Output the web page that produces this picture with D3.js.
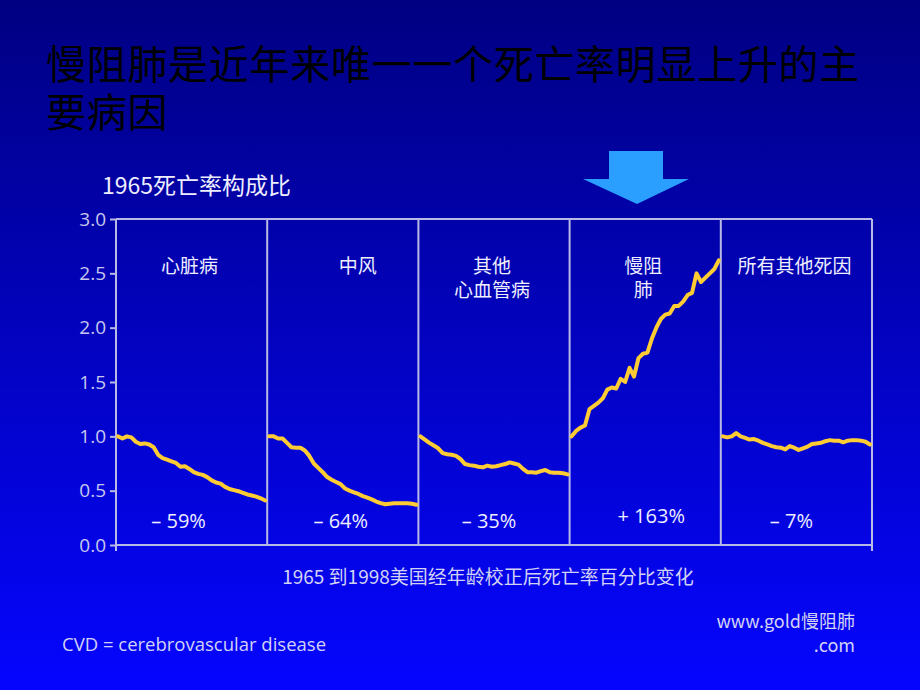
<!DOCTYPE html>
<html>
<head>
<meta charset="utf-8">
<script src="https://cdn.jsdelivr.net/npm/d3@7"></script>
<style>
  body { margin: 0; padding: 0; }
  svg { display: block; }
</style>
</head>
<body>
<script>
// ---- data ----
var years = d3.range(1965, 1999);

var causes = ["心脏病", "中风", "其他\n心血管病", "慢阻\n肺", "所有其他死因"];

var changes = ["– 59%", "– 64%", "– 35%", "+ 163%", "– 7%"];

var heart = [1.00, 0.98, 1.00, 0.99, 0.95, 0.93, 0.935, 0.925, 0.90, 0.83, 0.80, 0.785, 0.77, 0.755, 0.72, 0.725, 0.70,
             0.67, 0.655, 0.645, 0.625, 0.595, 0.575, 0.565, 0.535, 0.515, 0.505, 0.495, 0.48, 0.465, 0.455, 0.445, 0.43, 0.41];
var stroke = [1.00, 1.00, 0.98, 0.98, 0.94, 0.90, 0.895, 0.895, 0.87, 0.82, 0.75, 0.71, 0.67, 0.625, 0.60, 0.58, 0.56,
              0.52, 0.50, 0.485, 0.47, 0.45, 0.435, 0.42, 0.40, 0.385, 0.375, 0.38, 0.385, 0.385, 0.385, 0.385, 0.38, 0.37];
var otherCvd = [1.00, 0.97, 0.94, 0.915, 0.89, 0.845, 0.835, 0.83, 0.82, 0.79, 0.745, 0.735, 0.73, 0.72, 0.715, 0.73, 0.72,
                0.725, 0.735, 0.745, 0.76, 0.75, 0.74, 0.70, 0.67, 0.67, 0.665, 0.68, 0.69, 0.67, 0.665, 0.665, 0.66, 0.65];
var copd = [1.00, 1.05, 1.08, 1.10, 1.25, 1.28, 1.31, 1.35, 1.43, 1.45, 1.44, 1.53, 1.50, 1.63, 1.55, 1.72, 1.76,
            1.77, 1.90, 2.00, 2.08, 2.12, 2.13, 2.20, 2.20, 2.24, 2.30, 2.32, 2.50, 2.42, 2.46, 2.50, 2.54, 2.62];
var allOther = [1.00, 0.99, 1.00, 1.03, 1.00, 0.985, 0.97, 0.975, 0.96, 0.94, 0.925, 0.91, 0.90, 0.895, 0.88, 0.91, 0.895,
                0.875, 0.89, 0.905, 0.93, 0.935, 0.94, 0.955, 0.965, 0.96, 0.96, 0.945, 0.96, 0.965, 0.965, 0.96, 0.95, 0.925];

var series = [heart, stroke, otherCvd, copd, allOther];

var yTicks = [0.0, 0.5, 1.0, 1.5, 2.0, 2.5, 3.0];

// ---- canvas ----
var width = 920, height = 690;

var svg = d3.select("body")
    .append("svg")
    .attr("width", width)
    .attr("height", height);

var defs = svg.append("defs");
var grad = defs.append("linearGradient")
    .attr("id", "bg")
    .attr("x1", 0).attr("y1", 0)
    .attr("x2", 0).attr("y2", 1);
grad.append("stop").attr("offset", "0%").attr("stop-color", "#000082");
grad.append("stop").attr("offset", "100%").attr("stop-color", "#0505ff");

svg.append("rect")
    .attr("width", width)
    .attr("height", height)
    .attr("fill", "url(#bg)");

var cjk = "'Noto Sans CJK SC', 'Noto Sans', sans-serif";
var latin = "'Open Sans', 'Noto Sans', sans-serif";
var axisColor = "#b9b9e6";
var textColor = "#eeeeff";
var noteColor = "#d2d2f4";

// title (two lines, as in the slide)
svg.append("text")
    .attr("x", 46)
    .attr("y", 79)
    .attr("fill", "#000000")
    .style("font-family", cjk)
    .style("font-size", "40px")
    .style("letter-spacing", "0.7px")
    .text("慢阻肺是近年来唯一一个死亡率明显上升的主");
svg.append("text")
    .attr("x", 46)
    .attr("y", 127)
    .attr("fill", "#000000")
    .style("font-family", cjk)
    .style("font-size", "40px")
    .style("letter-spacing", "0.7px")
    .text("要病因");

// arrow
var arrowPath = d3.path();
arrowPath.moveTo(609, 151);
arrowPath.lineTo(663, 151);
arrowPath.lineTo(663, 179);
arrowPath.lineTo(689, 179);
arrowPath.lineTo(637, 204);
arrowPath.lineTo(583, 179);
arrowPath.lineTo(609, 179);
arrowPath.closePath();
svg.append("path")
    .attr("d", arrowPath.toString())
    .attr("fill", "#2a9fff");

// subtitle
svg.append("text")
    .attr("x", 102)
    .attr("y", 194)
    .attr("fill", textColor)
    .style("font-family", cjk)
    .style("font-size", "23px")
    .text("1965死亡率构成比");

// ---- scales ----
var plotLeft = 116, plotRight = 872, plotTop = 219, plotBottom = 545;

var y = d3.scaleLinear()
    .domain([0, 3])
    .range([plotBottom, plotTop]);

var band = d3.scaleBand()
    .domain(causes)
    .range([plotLeft, plotRight])
    .paddingInner(0);

// y axis
var yAxis = d3.axisLeft(y)
    .tickValues(yTicks)
    .tickFormat(d3.format(".1f"))
    .tickSize(6)
    .tickPadding(4);

var yg = svg.append("g")
    .attr("transform", "translate(" + plotLeft + ",0)")
    .call(yAxis);
yg.select(".domain")
    .attr("stroke", axisColor)
    .attr("stroke-width", 2)
    .attr("d", "M0," + (plotBottom + 6) + "V" + plotTop);
yg.selectAll(".tick line").attr("stroke", axisColor).attr("stroke-width", 2);
yg.selectAll(".tick text")
    .attr("fill", "#c8c8ee")
    .style("font-family", latin)
    .style("font-size", "19px");

// frame: top and bottom lines
svg.append("line")
    .attr("x1", plotLeft).attr("x2", plotRight)
    .attr("y1", plotTop).attr("y2", plotTop)
    .attr("stroke", axisColor).attr("stroke-width", 2);
svg.append("line")
    .attr("x1", plotLeft).attr("x2", plotRight)
    .attr("y1", plotBottom).attr("y2", plotBottom)
    .attr("stroke", axisColor).attr("stroke-width", 2);
svg.append("line")
    .attr("x1", plotRight).attr("x2", plotRight)
    .attr("y1", plotBottom).attr("y2", plotBottom + 6)
    .attr("stroke", axisColor).attr("stroke-width", 2);

// panel dividers
svg.append("g")
    .selectAll("line")
    .data(causes)
    .enter()
        .append("line")
        .attr("x1", function (d) { return band(d) + band.bandwidth(); })
        .attr("x2", function (d) { return band(d) + band.bandwidth(); })
        .attr("y1", plotTop)
        .attr("y2", plotBottom)
        .attr("stroke", axisColor)
        .attr("stroke-width", 2);

// panels
var panels = svg.append("g")
    .selectAll("g")
    .data(causes)
    .enter()
        .append("g")
        .attr("transform", function (d) { return "translate(" + band(d) + ",0)"; });

panels.append("path")
    .attr("d", function (d, i) {
        var x = d3.scaleLinear()
            .domain([1965, 1998])
            .range([2, band.bandwidth() - 2]);
        var line = d3.line()
            .x(function (v, j) { return x(years[j]); })
            .y(function (v) { return y(v); });
        return line(series[i]);
    })
    .attr("fill", "none")
    .attr("stroke", "#ffcc33")
    .attr("stroke-width", 4)
    .attr("stroke-linejoin", "round")
    .attr("stroke-linecap", "round");

panels.append("text")
    .attr("fill", textColor)
    .attr("text-anchor", "middle")
    .style("font-family", cjk)
    .style("font-size", "19px")
    .selectAll("tspan")
    .data(function (d) { return d.split("\n"); })
    .enter()
        .append("tspan")
        .attr("x", function () {
            var c = d3.select(this.parentNode).datum();
            return band.bandwidth() / 2 + (c === "中风" ? 15 : -2);
        })
        .attr("y", function (d, i) { return 273 + i * 24; })
        .text(function (d) { return d; });

// the percent labels sit a little off-centre in the slide
var pctShift = [-13, -2, -5, 6, -5];
panels.append("text")
    .attr("x", function (d, i) { return band.bandwidth() / 2 + pctShift[i]; })
    .attr("y", function (d, i) { return i === 3 ? 523 : 528; })
    .attr("fill", textColor)
    .attr("text-anchor", "middle")
    .style("font-family", latin)
    .style("font-size", "20px")
    .text(function (d, i) { return changes[i]; });

// x caption
svg.append("text")
    .attr("x", 488)
    .attr("y", 584)
    .attr("fill", noteColor)
    .attr("text-anchor", "middle")
    .style("font-family", cjk)
    .style("font-size", "19px")
    .text("1965 到1998美国经年龄校正后死亡率百分比变化");

// footnotes
svg.append("text")
    .attr("x", 62)
    .attr("y", 651)
    .attr("fill", noteColor)
    .style("font-family", latin)
    .style("font-size", "18.5px")
    .text("CVD = cerebrovascular disease");

svg.append("text")
    .attr("fill", noteColor)
    .attr("text-anchor", "end")
    .style("font-family", cjk)
    .style("font-size", "18px")
    .selectAll("tspan")
    .data(["www.gold慢阻肺", ".com"])
    .enter()
        .append("tspan")
        .attr("x", 855)
        .attr("y", function (d, i) { return 628 + i * 24; })
        .text(function (d) { return d; });
</script>
</body>
</html>
